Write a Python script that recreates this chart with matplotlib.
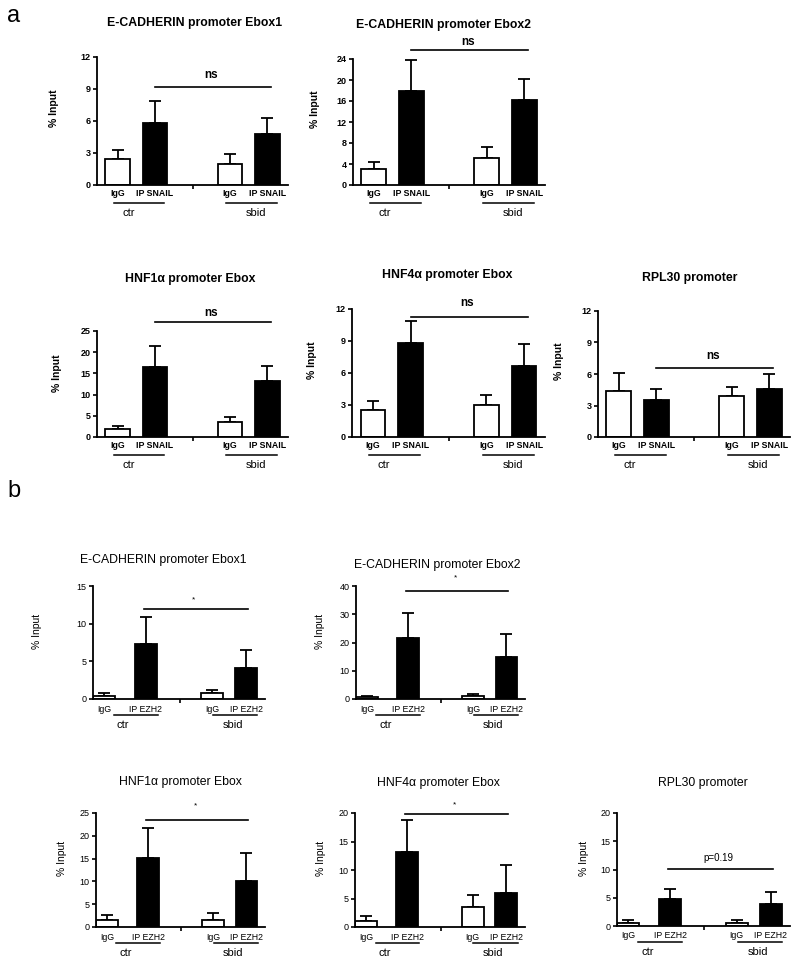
import matplotlib.pyplot as plt
import numpy as np

plt.rcParams['font.family'] = ['Liberation Sans', 'DejaVu Sans']

# -------------------------------
# Data
# -------------------------------
groups = ["ctr", "sbid"]
a_bar_labels = ["IgG", "IP SNAIL", "IgG", "IP SNAIL"]
b_bar_labels = ["IgG", "IP EZH2", "IgG", "IP EZH2"]

titles = ["E-CADHERIN promoter Ebox1", "E-CADHERIN promoter Ebox2",
          "HNF1α promoter Ebox", "HNF4α promoter Ebox", "RPL30 promoter"]

# panel a: ChIP SNAIL  (ctr IgG, ctr IP, sbid IgG, sbid IP)
a_means = [[2.4, 5.8, 2.0, 4.8],
           [3.0, 18.0, 5.2, 16.1],
           [2.0, 16.5, 3.5, 13.3],
           [2.5, 8.8, 3.0, 6.7],
           [4.4, 3.5, 3.9, 4.6]]
a_errs = [[0.9, 2.1, 0.9, 1.5],
          [1.3, 5.8, 2.1, 4.1],
          [0.6, 5.0, 1.3, 3.5],
          [0.9, 2.1, 0.9, 2.0],
          [1.7, 1.1, 0.9, 1.4]]
a_ymax = [12, 24, 25, 12, 12]
a_ystep = [3, 4, 5, 3, 3]
a_sig = ["ns", "ns", "ns", "ns", "ns"]

# panel b: ChIP EZH2
b_means = [[0.4, 7.35, 0.75, 4.15],
           [0.6, 21.7, 1.0, 15.0],
           [1.6, 15.1, 1.6, 10.1],
           [1.0, 13.2, 3.5, 6.0],
           [0.6, 4.7, 0.6, 3.95]]
b_errs = [[0.35, 3.55, 0.45, 2.35],
          [0.4, 8.9, 0.6, 8.0],
          [1.0, 6.6, 1.5, 6.1],
          [1.0, 5.5, 2.2, 4.9],
          [0.5, 1.9, 0.5, 2.0]]
b_ymax = [15, 40, 25, 20, 20]
b_ystep = [5, 10, 5, 5, 5]
b_sig = ["*", "*", "*", "*", "p=0.19"]

# -------------------------------
# Layout (pixels of the 800x966 figure)
# -------------------------------
W, H = 800, 966
a_rects = [(97, 57, 288, 185), (353, 59, 545, 185),
           (97, 331, 288, 437), (352, 309, 545, 437), (598, 311, 790, 437)]
b_rects = [(93, 586, 265, 699), (356, 586, 525, 699),
           (96, 813, 265, 927), (355, 813, 525, 927), (617, 813, 790, 926)]
a_title_xy = [(195, 23), (443, 25), (190, 279), (447, 275), (690, 278)]
b_title_xy = [(163, 560), (437, 565), (180, 782), (438, 783), (703, 783)]
a_ylab_off = [38, 33, 35, 35, 34]
b_ylab_off = [51, 31, 29, 29, 28]
a_sig_line = [9.2, 25.7, 27.1, 11.25, 6.6]
a_sig_text = [10.3, 27.2, 29.2, 12.55, 7.7]
b_sig_line = [11.9, 38.3, 23.4, 19.8, 10.1]
b_sig_text = [13.2, 43.0, 26.5, 21.5, 12.0]

a_cfg = dict(pos=[0, 1, 3, 4], xlim=(-0.55, 4.55), width=0.65,
             sig_x=(1.0, 4.1), sig_tx=2.5,
             lines=[(-0.1, 1.25), (2.9, 4.25)], gtext=[0.3, 3.7],
             lab_off=8, line_off=18, gtext_off=28, weight="bold")
b_cfg = dict(pos=[0, 1.1, 2.85, 3.75], xlim=(-0.3, 4.25), width=0.58,
             sig_x=(1.05, 3.8), sig_tx=2.37,
             lines=[(0.25, 1.42), (2.87, 4.05)], gtext=[0.5, 3.4],
             lab_off=10, line_off=16, gtext_off=26, weight="normal")


def draw_panel(fig, rect, title, txy, ylab_off, means, errs, ymax, ystep,
               labels, sig, sig_line, sig_text, cfg):
    l, t, r, b = rect
    ax = fig.add_axes([l / W, 1 - b / H, (r - l) / W, (b - t) / H])
    hpx = b - t
    wpx = r - l
    pos = cfg["pos"]
    colors = ["white", "black", "white", "black"]
    ax.bar(pos, means, width=cfg["width"], color=colors, edgecolor="black",
           linewidth=1.3, zorder=2)
    ax.errorbar(pos, means, yerr=[np.zeros(4), errs], fmt="none",
                ecolor="black", elinewidth=1.3, capsize=4.5, capthick=1.3,
                zorder=1)
    ax.set_xlim(*cfg["xlim"])
    ax.set_ylim(0, ymax)
    ax.set_yticks(np.arange(0, ymax + 0.01, ystep))
    for s in ["top", "right"]:
        ax.spines[s].set_visible(False)
    for s in ["left", "bottom"]:
        ax.spines[s].set_linewidth(1.3)
    ax.tick_params(axis="y", length=3, width=1.2, labelsize=6.5, pad=1.5)
    for lab in ax.get_yticklabels():
        lab.set_fontweight(cfg["weight"])
    # middle tick only on x axis
    ax.set_xticks([2])
    ax.set_xticklabels([""])
    ax.tick_params(axis="x", length=3, width=1.2)

    xt = ax.get_xaxis_transform()
    for p, lab in zip(pos, labels):
        ax.text(p, -cfg["lab_off"] / hpx, lab, transform=xt, ha="center",
                va="center", fontsize=6.3, fontweight=cfg["weight"])
    for (x0, x1), gx, g in zip(cfg["lines"], cfg["gtext"], groups):
        ax.plot([x0, x1], [-cfg["line_off"] / hpx] * 2, transform=xt,
                color="black", lw=1.1, clip_on=False)
        ax.text(gx, -cfg["gtext_off"] / hpx, g, transform=xt, ha="center",
                va="center", fontsize=8)

    # significance bar
    ax.plot(cfg["sig_x"], [sig_line, sig_line], color="black", lw=1.2,
            clip_on=False)
    fs = 8.5 if sig == "ns" else (7 if sig != "*" else 6)
    ax.text(cfg["sig_tx"], sig_text, sig, ha="center", va="center",
            fontsize=fs, fontweight=cfg["weight"], clip_on=False)

    ax.set_ylabel("% Input", fontsize=7.5, fontweight=cfg["weight"])
    ax.yaxis.set_label_coords(-ylab_off / wpx, 0.6)
    fig.text(txy[0] / W, 1 - txy[1] / H, title, ha="center", va="center",
             fontsize=8.8, fontweight=cfg["weight"])
    return ax


fig = plt.figure(figsize=(W / 100, H / 100), dpi=100)

for i in range(5):
    draw_panel(fig, a_rects[i], titles[i], a_title_xy[i], a_ylab_off[i],
               a_means[i], a_errs[i], a_ymax[i], a_ystep[i], a_bar_labels,
               a_sig[i], a_sig_line[i], a_sig_text[i], a_cfg)
    draw_panel(fig, b_rects[i], titles[i], b_title_xy[i], b_ylab_off[i],
               b_means[i], b_errs[i], b_ymax[i], b_ystep[i], b_bar_labels,
               b_sig[i], b_sig_line[i], b_sig_text[i], b_cfg)

fig.text(14 / W, 1 - 16 / H, "a", fontsize=17, ha="center", va="center")
fig.text(14 / W, 1 - 491 / H, "b", fontsize=17, ha="center", va="center")

plt.savefig("out.png", dpi=100)
